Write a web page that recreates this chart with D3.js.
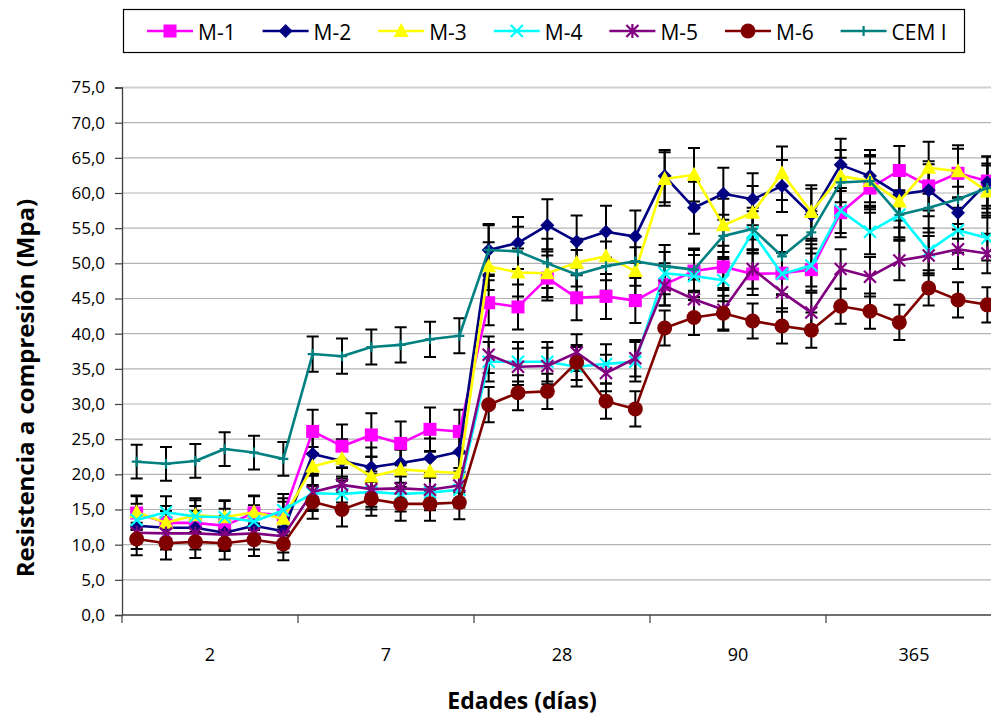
<!DOCTYPE html>
<html>
<head>
<meta charset="utf-8">
<script src="https://cdn.jsdelivr.net/npm/d3@7"></script>
<style>
  html, body { margin: 0; padding: 0; background: #fff; }
  svg { display: block; }
  text { font-family: "Open Sans", "Liberation Sans", sans-serif; fill: #000; }
</style>
</head>
<body>
<svg id="chart" width="991" height="718"></svg>
<script>
// Ages (days) and the six specimens tested at each age
const ages = ["2", "7", "28", "90", "365"];
const specimens = [1, 2, 3, 4, 5, 6];

const seriesNames = ["M-1", "M-2", "M-3", "M-4", "M-5", "M-6", "CEM I"];

// Compressive strength (MPa), 6 specimens per age
const m1 = [14.5, 13.1, 13.1, 12.7, 14.5, 14.2,
            26.1, 24.0, 25.6, 24.4, 26.4, 26.1,
            44.4, 43.8, 47.9, 45.1, 45.3, 44.7,
            47.0, 48.9, 49.5, 48.5, 48.6, 49.1,
            57.2, 60.7, 63.2, 61.0, 62.8, 61.7];
const m2 = [12.7, 12.4, 12.4, 11.7, 12.7, 11.9,
            22.9, 21.9, 21.0, 21.6, 22.3, 23.2,
            51.9, 52.9, 55.4, 53.1, 54.5, 53.8,
            62.4, 57.9, 59.9, 59.1, 61.0, 56.9,
            64.0, 62.4, 59.8, 60.4, 57.2, 61.5];
const m3 = [14.6, 13.1, 14.2, 13.9, 14.6, 13.7,
            21.1, 22.2, 19.7, 20.7, 20.4, 20.2,
            49.6, 48.7, 48.6, 50.1, 51.0, 48.9,
            62.0, 62.6, 55.4, 57.2, 62.8, 57.3,
            62.4, 61.7, 58.8, 63.6, 63.1, 60.2];
const m4 = [13.5, 14.6, 14.0, 13.9, 13.3, 14.9,
            17.3, 17.2, 17.5, 17.2, 17.4, 17.8,
            36.0, 36.0, 36.0, 35.3, 35.7, 36.0,
            48.6, 48.2, 47.6, 54.4, 48.5, 49.7,
            57.5, 54.5, 56.9, 51.8, 54.7, 53.6];
const m5 = [11.7, 11.6, 11.6, 11.4, 11.6, 11.2,
            17.5, 18.5, 17.9, 18.0, 17.8, 18.4,
            37.0, 35.3, 35.4, 37.3, 34.4, 36.5,
            46.8, 44.9, 43.4, 49.2, 45.9, 43.0,
            49.2, 48.1, 50.4, 51.1, 52.0, 51.4];
const m6 = [10.8, 10.2, 10.4, 10.2, 10.7, 10.1,
            16.1, 15.0, 16.5, 15.8, 15.8, 16.0,
            29.9, 31.6, 31.8, 35.9, 30.4, 29.3,
            40.8, 42.3, 42.9, 41.8, 41.1, 40.5,
            43.9, 43.2, 41.6, 46.5, 44.8, 44.1];
const cem = [21.8, 21.5, 21.9, 23.6, 23.1, 22.2,
             37.1, 36.8, 38.1, 38.4, 39.2, 39.7,
             51.9, 51.7, 50.0, 48.4, 49.6, 50.3,
             49.6, 49.1, 53.9, 54.9, 51.0, 54.4,
             61.5, 61.7, 56.9, 57.9, 59.1, 60.7];

// Error bar half-widths (MPa)
const e1 = [2.4, 2.4, 2.4, 2.4, 2.4, 2.4, 3.1, 3.1, 3.1, 3.1, 3.1, 3.1,
            3.2, 3.2, 3.2, 3.2, 3.2, 3.2, 3.0, 3.0, 3.0, 3.0, 3.0, 3.0,
            3.5, 3.5, 3.5, 3.5, 3.5, 3.5];
const e2 = [2.4, 2.4, 2.4, 2.4, 2.4, 2.4, 2.8, 2.8, 2.8, 2.8, 2.8, 2.8,
            3.7, 3.7, 3.7, 3.7, 3.7, 3.7, 3.7, 3.7, 3.7, 3.7, 3.7, 3.7,
            3.7, 3.7, 3.7, 3.7, 3.7, 3.7];
const e3 = [2.4, 2.4, 2.4, 2.4, 2.4, 2.4, 2.8, 2.8, 2.8, 2.8, 2.8, 2.8,
            3.4, 3.4, 3.4, 3.4, 3.4, 3.4, 3.8, 3.8, 3.8, 3.8, 3.8, 3.8,
            3.7, 3.7, 3.7, 3.7, 3.7, 3.7];
const e4 = [2.3, 2.3, 2.3, 2.3, 2.3, 2.3, 2.5, 2.5, 2.5, 2.5, 2.5, 2.5,
            2.8, 2.8, 2.8, 2.8, 2.8, 2.8, 3.0, 3.0, 3.0, 3.0, 3.0, 3.0,
            3.2, 3.2, 3.2, 3.2, 3.2, 3.2];
const e5 = [2.3, 2.3, 2.3, 2.3, 2.3, 2.3, 2.5, 2.5, 2.5, 2.5, 2.5, 2.5,
            2.6, 2.6, 2.6, 2.6, 2.6, 2.6, 2.8, 2.8, 2.8, 2.8, 2.8, 2.8,
            2.8, 2.8, 2.8, 2.8, 2.8, 2.8];
const e6 = [2.3, 2.3, 2.3, 2.3, 2.3, 2.3, 2.4, 2.4, 2.4, 2.4, 2.4, 2.4,
            2.5, 2.5, 2.5, 2.5, 2.5, 2.5, 2.5, 2.5, 2.5, 2.5, 2.5, 2.5,
            2.5, 2.5, 2.5, 2.5, 2.5, 2.5];
const eC = [2.4, 2.4, 2.4, 2.4, 2.4, 2.4, 2.5, 2.5, 2.5, 2.5, 2.5, 2.5,
            3.5, 3.5, 3.5, 3.5, 3.5, 3.5, 3.0, 3.0, 3.0, 3.0, 3.0, 3.0,
            3.5, 3.5, 3.5, 3.5, 3.5, 3.5];

const yTicks = [0, 5, 10, 15, 20, 25, 30, 35, 40, 45, 50, 55, 60, 65, 70, 75];

const seriesValues = [m1, m2, m3, m4, m5, m6, cem];
const seriesErrors = [e1, e2, e3, e4, e5, e6, eC];
const seriesColors = ["#FF00FF", "#000080", "#FFFF00", "#00FFFF", "#800080", "#800000", "#008080"];
const seriesMarkers = ["square", "diamond", "triangle", "x", "star", "circle", "plus"];

const categories = d3.cross(ages, specimens).map(([a, s]) => a + "-" + s);

// Layout
const plot = { left: 122, right: 1002, top: 87.5, bottom: 615 };
const svg = d3.select("#chart");

const x = d3.scaleBand().domain(categories).range([plot.left, plot.right]).padding(0);
const xc = c => x(c) + x.bandwidth() / 2;
const xAge = d3.scaleBand().domain(ages).range([plot.left, plot.right]).padding(0);
const y = d3.scaleLinear().domain([0, 75]).range([plot.bottom, plot.top]);

// Horizontal gridlines
svg.append("g")
  .selectAll("line")
  .data(yTicks.filter(t => t > 0))
  .join("line")
  .attr("x1", plot.left).attr("x2", plot.right)
  .attr("y1", d => y(d)).attr("y2", d => y(d))
  .attr("stroke", d => d === 75 ? "#D0D0D0" : "#B4B4B4")
  .attr("stroke-width", d => d === 75 ? 2 : 1.2);

// Y axis
const fmt = d => d3.format(".1f")(d).replace(".", ",");
const yAxis = svg.append("g")
  .attr("transform", `translate(${plot.left},0)`)
  .call(d3.axisLeft(y).tickValues(yTicks).tickFormat(fmt).tickSize(7).tickPadding(10));
yAxis.select(".domain").attr("stroke", "#404040").attr("stroke-width", 1.3);
yAxis.selectAll(".tick line").attr("stroke", "#404040").attr("stroke-width", 1.2);
yAxis.selectAll(".tick text")
  .attr("font-size", 17).attr("fill", "#000");

// X axis: age labels centred in each group, tick marks at group boundaries
const xAxis = svg.append("g")
  .attr("transform", `translate(0,${plot.bottom})`)
  .call(d3.axisBottom(xAge).tickSize(0).tickPadding(33));
xAxis.select(".domain").remove();
xAxis.selectAll(".tick text")
  .attr("font-size", 18).attr("fill", "#000");
svg.append("line")
  .attr("x1", plot.left).attr("x2", plot.right)
  .attr("y1", plot.bottom).attr("y2", plot.bottom)
  .attr("stroke", "#404040").attr("stroke-width", 1.3);
svg.append("g")
  .selectAll("line")
  .data(ages)
  .join("line")
  .attr("x1", d => xAge(d)).attr("x2", d => xAge(d))
  .attr("y1", plot.bottom).attr("y2", plot.bottom + 8)
  .attr("stroke", "#404040").attr("stroke-width", 1.2);

// Axis titles
svg.append("text")
  .attr("transform", "translate(24,388) rotate(-90)")
  .attr("text-anchor", "middle")
  .attr("dominant-baseline", "central")
  .attr("font-size", 24).attr("font-weight", "bold")
  .text("Resistencia a compresión (Mpa)");
svg.append("text")
  .attr("x", 522).attr("y", 700)
  .attr("text-anchor", "middle")
  .attr("dominant-baseline", "central")
  .attr("font-size", 23).attr("font-weight", "bold")
  .text("Edades (días)");

// Marker drawing
function drawMarker(g, type, color) {
  switch (type) {
    case "square":
      g.append("rect").attr("x", -6.5).attr("y", -6.5).attr("width", 13).attr("height", 13)
        .attr("fill", color);
      break;
    case "diamond":
      g.append("path").attr("d", "M0,-7L7,0L0,7L-7,0Z").attr("fill", color);
      break;
    case "triangle":
      g.append("path").attr("d", "M0,-8L7.5,6L-7.5,6Z").attr("fill", color);
      break;
    case "x":
      g.append("path").attr("d", "M-6,-6L6,6M-6,6L6,-6")
        .attr("stroke", color).attr("stroke-width", 2.2).attr("fill", "none");
      break;
    case "star":
      g.append("path").attr("d", "M-6,-6L6,6M-6,6L6,-6M0,-7L0,7")
        .attr("stroke", color).attr("stroke-width", 2.2).attr("fill", "none");
      break;
    case "circle":
      g.append("circle").attr("r", 7.5).attr("fill", color);
      break;
    case "plus":
      g.append("path").attr("d", "M-5,0L5,0M0,-5L0,5")
        .attr("stroke", color).attr("stroke-width", 2.2).attr("fill", "none");
      break;
  }
}

const rows = seriesNames.map((name, si) => ({
  name,
  color: seriesColors[si],
  marker: seriesMarkers[si],
  points: categories.map((c, i) => ({ c, v: seriesValues[si][i], e: seriesErrors[si][i] }))
}));

// Error bars
const capW = 6;
const errG = svg.append("g");
rows.forEach(r => {
  const g = errG.append("g");
  g.selectAll("path")
    .data(r.points)
    .join("path")
    .attr("d", p => {
      const cx = xc(p.c), y1 = y(p.v + p.e), y0 = y(p.v - p.e);
      return `M${cx},${y0}L${cx},${y1}M${cx - capW},${y1}L${cx + capW},${y1}M${cx - capW},${y0}L${cx + capW},${y0}`;
    })
    .attr("stroke", "#000").attr("stroke-width", 2).attr("fill", "none");
});

// Series lines and markers
const line = d3.line().x(p => xc(p.c)).y(p => y(p.v));
rows.forEach(r => {
  const g = svg.append("g");
  g.append("path").datum(r.points).attr("d", line)
    .attr("fill", "none").attr("stroke", r.color).attr("stroke-width", 2.6)
    .attr("stroke-linejoin", "round");
  g.selectAll("g.m")
    .data(r.points)
    .join("g").attr("class", "m")
    .attr("transform", p => `translate(${xc(p.c)},${y(p.v)})`)
    .each(function () { drawMarker(d3.select(this), r.marker, r.color); });
});

// Legend
const legend = svg.append("g");
legend.append("rect")
  .attr("x", 123.5).attr("y", 9.5).attr("width", 841).attr("height", 43)
  .attr("fill", "#fff").attr("stroke", "#000").attr("stroke-width", 1.2);
const legendStep = 115.6;
rows.forEach((r, i) => {
  const x0 = 147 + i * legendStep;
  const g = legend.append("g").attr("transform", `translate(${x0},31)`);
  g.append("line").attr("x1", 0).attr("x2", 46).attr("y1", 0).attr("y2", 0)
    .attr("stroke", r.color).attr("stroke-width", 2.6);
  const mg = g.append("g").attr("transform", "translate(23,0)");
  drawMarker(mg, r.marker, r.color);
  g.append("text").attr("x", 51).attr("y", 1)
    .attr("dominant-baseline", "central")
    .attr("font-size", 21)
    .text(r.name);
});
</script>
</body>
</html>
